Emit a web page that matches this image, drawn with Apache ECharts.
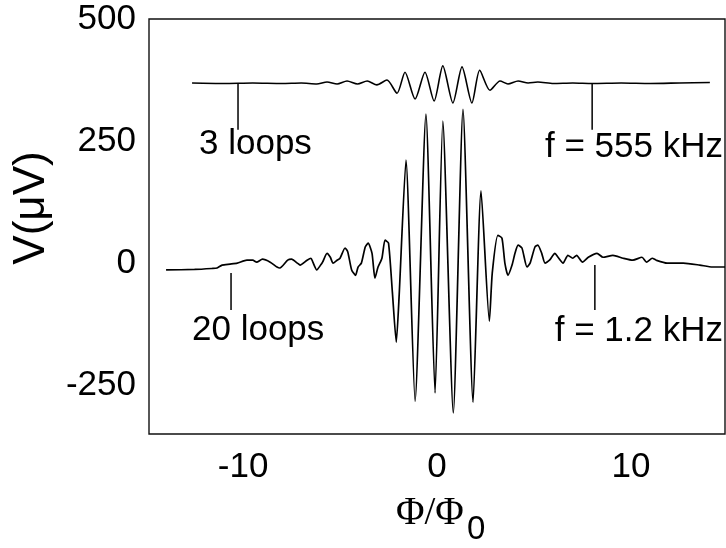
<!DOCTYPE html>
<html>
<head>
    <meta charset="utf-8">
    <title>V vs flux</title>
    <script src="https://cdn.jsdelivr.net/npm/echarts@6.0.0/dist/echarts.min.js"></script>
    <style>
        html, body { margin: 0; padding: 0; background: #fff; }
        #main { width: 726px; height: 548px; }
    </style>
</head>
<body>
<div id="main"></div>
<script type="text/javascript">
    // 3 loops, f = 555 kHz  (x = Phi/Phi0, y = V in uV)
    var loops3 = [
        [-12.63, 369], [-11, 368], [-9.5, 369], [-8, 368], [-7, 369], [-6.2, 367],
        [-5.67, 371], [-5.15, 367], [-4.64, 373], [-4.1, 367], [-3.6, 373], [-3.1, 365],
        [-2.58, 375], [-2.06, 348], [-1.65, 391], [-1.13, 336], [-0.62, 391], [-0.15, 332],
        [0.3, 404], [0.82, 328], [1.29, 402], [1.8, 328], [2.2, 395], [2.73, 354],
        [3.25, 373], [3.66, 367], [4.18, 373], [4.7, 369], [5.2, 371], [6, 368],
        [7, 369], [8, 368], [9.5, 369], [11, 368], [12.5, 369], [14.07, 370]
    ];
    // 20 loops, f = 1.2 kHz
    var loops20 = [
        [-13.97, -14], [-12.5, -13], [-11.6, -11], [-11.34, -10], [-11.08, -4], [-10.67, -2],
        [-10.3, 0], [-9.8, 6], [-9.5, 6], [-9.3, 2], [-9.0, 8], [-8.6, 2],
        [-8.25, -8], [-8.1, -10], [-7.7, 6], [-7.5, 8], [-7.2, 0], [-7.06, -4],
        [-6.7, 6], [-6.5, 10], [-6.4, 2], [-6.2, -14], [-6.0, -4], [-5.9, 2],
        [-5.67, 20], [-5.5, 12], [-5.36, 0], [-5.15, 6], [-5.0, 10], [-4.74, 31],
        [-4.6, 23], [-4.4, -14], [-4.2, -25], [-4.07, -8], [-3.9, 0], [-3.7, 33],
        [-3.55, 41], [-3.35, 20], [-3.2, -31], [-3.04, -8], [-2.84, 10], [-2.68, 47],
        [-2.5, 41], [-2.3, -60], [-2.1, -162], [-1.95, -65], [-1.6, 211], [-1.13, -283],
        [-0.57, 305], [-0.1, -266], [0.3, 291], [0.84, -307], [1.34, 315], [1.86, -285],
        [2.27, 148], [2.7, -119], [2.85, -20], [3.14, 57], [3.35, 51], [3.5, 0],
        [3.66, -25], [3.87, -4], [4.02, 20], [4.18, 37], [4.38, 31], [4.64, -8],
        [4.8, 0], [5.05, 33], [5.2, 37], [5.4, 20], [5.57, 0], [5.8, 6],
        [6.08, 20], [6.24, 12], [6.5, 0], [6.75, 16], [7.0, 10], [7.2, 16],
        [7.5, 2], [7.8, 12], [8.25, 20], [8.56, 12], [9.07, 16], [9.6, 10],
        [10.1, 6], [10.57, 12], [10.8, 2], [11.1, 10], [11.3, 6], [11.86, 0],
        [12.7, 0], [13.55, -4], [14.2, -8], [14.85, -8]
    ];
    // little vertical pointer lines under the traces
    var tickX = [-10.26, 8.0, -10.62, 8.14];
    var tickTop = [369, 367, -20, -4];
    var tickBottom = [273, 273, -96, -96];
    var xTicks = [-10, 0, 10];
    var yTicks = [-250, 0, 250, 500];
    var notes = ['3 loops', 'f = 555 kHz', '20 loops', 'f = 1.2 kHz'];

    var font = '"Liberation Sans", Arial, sans-serif';
    var series = [
        {type: 'line', data: loops3, showSymbol: false, smooth: 0.25,
            lineStyle: {color: '#000', width: 1.6}},
        {type: 'line', data: loops20, showSymbol: false, smooth: 0.2,
            lineStyle: {color: '#000', width: 1.7}}
    ];
    for (var i = 0; i < tickX.length; i++) {
        series.push({
            type: 'line', showSymbol: false,
            data: [[tickX[i], tickTop[i]], [tickX[i], tickBottom[i]]],
            lineStyle: {color: '#000', width: 1.5}
        });
    }

    var myChart = echarts.init(document.getElementById('main'));
    var option = {
        animation: false,
        backgroundColor: '#fff',
        grid: {left: 149, right: 1, top: 19, bottom: 114, show: true,
            borderColor: '#111', borderWidth: 1.4, backgroundColor: 'transparent'},
        xAxis: {
            type: 'value', min: -14.85, max: 14.85,
            axisLine: {show: false}, axisTick: {show: false}, splitLine: {show: false},
            axisLabel: {customValues: xTicks, color: '#000', fontSize: 35, fontFamily: font, margin: 16}
        },
        yAxis: {
            type: 'value', min: -350, max: 500,
            axisLine: {show: false}, axisTick: {show: false}, splitLine: {show: false},
            axisLabel: {customValues: yTicks, color: '#000', fontSize: 35, fontFamily: font, margin: 13}
        },
        series: series,
        graphic: [
            {type: 'text', left: 199, top: 127, style: {text: notes[0], font: '35px ' + font, fill: '#000'}},
            {type: 'text', right: 3, top: 130, style: {text: notes[1], font: '35px ' + font, fill: '#000'}},
            {type: 'text', left: 192, top: 313, style: {text: notes[2], font: '35px ' + font, fill: '#000'}},
            {type: 'text', right: 3, top: 314, style: {text: notes[3], font: '35px ' + font, fill: '#000'}},
            {type: 'text', x: 32, y: 208, rotation: Math.PI / 2,
                style: {text: 'V(μV)', font: '44px ' + font, fill: '#000', align: 'center', verticalAlign: 'middle'}},
            {type: 'text', x: 396, y: 514,
                style: {text: 'Φ/Φ', font: '39px "Liberation Serif", "Times New Roman", serif', fill: '#000', verticalAlign: 'middle'}},
            {type: 'text', x: 467, y: 530,
                style: {text: '0', font: '33px ' + font, fill: '#000', verticalAlign: 'middle'}}
        ]
    };
    myChart.setOption(option);
</script>
</body>
</html>
